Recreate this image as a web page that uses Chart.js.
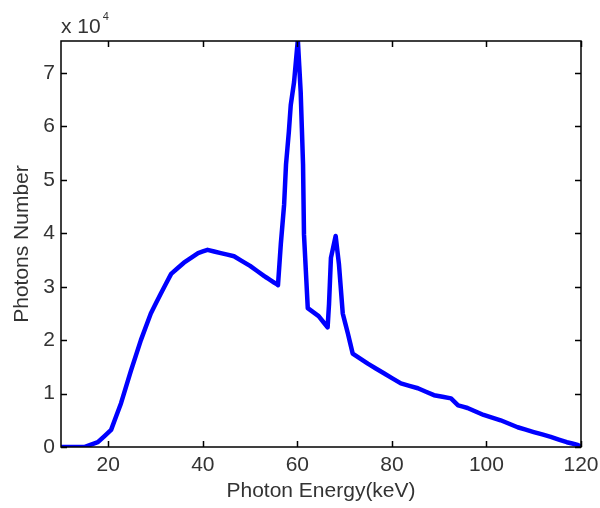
<!DOCTYPE html>
<html>
<head>
<meta charset="utf-8">
<script src="https://cdn.jsdelivr.net/npm/chart.js@4"></script>
<style>
  html, body { margin: 0; padding: 0; background: #fff; }
  #wrap { position: relative; width: 600px; height: 508px; }
  #exp { position: absolute; left: 61px; top: 15px; font: 21px/21px "Liberation Sans", Arial, sans-serif; color: #333; white-space: nowrap; }
  #exp sup { font-size: 11px; position: relative; top: -9px; vertical-align: top; margin-left: 2px; }
</style>
</head>
<body>
<div id="wrap">
  <canvas id="spectrum" width="600" height="508"></canvas>
  <div id="exp">x 10<sup>4</sup></div>
</div>
<script>
// photon energy (keV) and photon count (x 10^4)
const energy = [10, 14.9, 17.8, 20.6, 22.7, 24.8, 26.9, 29, 31.1, 33.3, 36, 39, 41, 43.8, 46.6, 50, 53, 55.9,
  56.5, 57.2, 57.6, 58.2, 58.6, 59.3, 60.1, 60.7, 61.2, 61.4, 62.2, 64.5, 66.4, 66.7, 67.1, 68.1, 68.8, 69.6,
  70.7, 71.7, 74.9, 78.3, 81.9, 85.5, 88.9, 92.5, 94, 96, 99.4, 103, 106.6, 110, 113.6, 117, 119.3, 120];
const photons = [0, 0, 0.09, 0.32, 0.82, 1.43, 2.0, 2.5, 2.87, 3.24, 3.45, 3.63, 3.69, 3.63, 3.57, 3.39, 3.2, 3.03,
  3.8, 4.54, 5.29, 5.9, 6.4, 6.83, 7.62, 6.65, 5.29, 3.98, 2.6, 2.45, 2.24, 2.68, 3.54, 3.95, 3.42, 2.5,
  2.12, 1.75, 1.56, 1.38, 1.19, 1.1, 0.97, 0.91, 0.78, 0.73, 0.6, 0.5, 0.37, 0.28, 0.19, 0.09, 0.04, 0];
const xTicks = [20, 40, 60, 80, 100, 120];
const yTicks = [0, 1, 2, 3, 4, 5, 6, 7];

const font = { family: '"Liberation Sans", Arial, sans-serif', size: 21 };

// matlab style box with inward ticks
const boxTicks = {
  id: 'boxTicks',
  afterDraw(chart) {
    const { ctx, chartArea: a, scales: { x, y } } = chart;
    ctx.save();
    ctx.strokeStyle = '#000';
    ctx.lineWidth = 1.5;
    ctx.strokeRect(a.left, a.top, a.right - a.left, a.bottom - a.top);
    ctx.beginPath();
    xTicks.forEach(v => {
      const px = Math.round(x.getPixelForValue(v)) + 0.5;
      ctx.moveTo(px, a.bottom); ctx.lineTo(px, a.bottom - 6);
      ctx.moveTo(px, a.top); ctx.lineTo(px, a.top + 6);
    });
    yTicks.forEach(v => {
      const py = Math.round(y.getPixelForValue(v)) + 0.5;
      ctx.moveTo(a.left, py); ctx.lineTo(a.left + 6, py);
      ctx.moveTo(a.right, py); ctx.lineTo(a.right - 6, py);
    });
    ctx.stroke();
    ctx.restore();
  }
};

new Chart(document.getElementById('spectrum'), {
  type: 'line',
  data: {
    datasets: [{
      data: energy.map((e, i) => ({ x: e, y: photons[i] })),
      borderColor: '#0000ff',
      borderWidth: 4.5,
      borderJoinStyle: 'round',
      pointRadius: 0,
      tension: 0.0001, // tiny value keeps straight segments but skips the per-pixel fast path
      fill: false
    }]
  },
  options: {
    responsive: false,
    animation: false,
    layout: { padding: { top: 41, right: 19, left: 0, bottom: 0 } },
    plugins: { legend: { display: false }, tooltip: { enabled: false } },
    scales: {
      x: {
        type: 'linear',
        min: 10,
        max: 120,
        afterBuildTicks: s => { s.ticks = xTicks.map(v => ({ value: v })); },
        afterFit: s => { s.height = 61; s.paddingLeft = 0; s.paddingRight = 0; },
        grid: { display: false, drawTicks: false },
        border: { display: false },
        ticks: { font, color: '#333', padding: 6 },
        title: { display: true, text: 'Photon Energy(keV)', font, color: '#333', padding: { top: 2, bottom: 4 } }
      },
      y: {
        min: 0,
        max: 7.6,
        afterBuildTicks: s => { s.ticks = yTicks.map(v => ({ value: v })); },
        afterFit: s => { s.width = 61; s.paddingTop = 0; s.paddingBottom = 0; },
        grid: { display: false, drawTicks: false },
        border: { display: false },
        ticks: { font, color: '#333', padding: 6 },
        title: { display: true, text: 'Photons Number', font, color: '#333', padding: { top: 10, bottom: 4 } }
      }
    }
  },
  plugins: [boxTicks]
});
</script>
</body>
</html>
